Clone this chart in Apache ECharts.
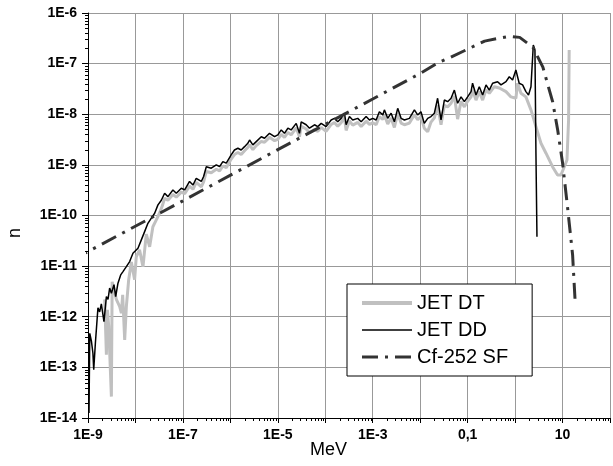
<!DOCTYPE html>
<html>
<head>
<meta charset="utf-8">
<script src="https://cdn.jsdelivr.net/npm/echarts@6/dist/echarts.min.js"></script>
<style>
html,body{margin:0;padding:0;background:#fff;}
#chart{width:613px;height:466px;}
</style>
</head>
<body>
<div id="chart"></div>
<script>
// ---- Tick labels ----
const xTickValues = [1e-9, 1e-7, 1e-5, 1e-3, 0.1, 10];
const xTickLabels = ['1E-9', '1E-7', '1E-5', '1E-3', '0,1', '10'];
const yTickValues = [1e-14, 1e-13, 1e-12, 1e-11, 1e-10, 1e-9, 1e-8, 1e-7, 1e-6];
const yTickLabels = ['1E-14', '1E-13', '1E-12', '1E-11', '1E-10', '1E-9', '1E-8', '1E-7', '1E-6'];

// ---- Series names ----
const seriesNames = ['JET DT', 'JET DD', 'Cf-252 SF'];

// ---- JET DD (black) : energy [MeV], n ----
const ddE = [1.05e-9,1.09e-9,1.18e-9,1.27e-9,1.32e-9,1.43e-9,1.62e-9,1.76e-9,1.91e-9,2.17e-9,2.44e-9,2.64e-9,2.86e-9,3.11e-9,3.53e-9,3.83e-9,4.28e-9,4.88e-9,5.46e-9,6.43e-9,7.55e-9,8.85e-9,1.13e-8,1.33e-8,1.56e-8,1.83e-8,2.16e-8,2.54e-8,2.98e-8,3.51e-8,
4.12e-8,4.83e-8,6.16e-8,7.26e-8,9.25e-8,1.09e-7,1.38e-7,1.63e-7,1.91e-7,2.44e-7,2.73e-7,3.11e-7,3.96e-7,5.05e-7,5.93e-7,6.95e-7,8.2e-7,1.04e-6,1.22e-6,1.44e-6,1.69e-6,1.99e-6,2.33e-6,2.54e-6,2.98e-6,3.51e-6,4.48e-6,5.25e-6,6.68e-6,8.53e-6,
1.0e-5,1.18e-5,1.38e-5,1.63e-5,1.91e-5,2.44e-5,2.86e-5,3.11e-5,3.96e-5,4.65e-5,5.93e-5,6.95e-5,8.2e-5,1.04e-4,1.33e-4,1.56e-4,1.83e-4,2.16e-4,2.54e-4,2.75e-4,3.23e-4,3.79e-4,4.83e-4,5.7e-4,7.26e-4,8.53e-4,1.0e-3,1.18e-3,1.38e-3,1.63e-3,1.76e-3,2.07e-3,2.44e-3,2.86e-3,3.36e-3,3.96e-3,4.65e-3,5.93e-3,7.55e-3,8.85e-3,
1.04e-2,1.22e-2,1.44e-2,1.69e-2,1.99e-2,2.33e-2,2.75e-2,3.23e-2,3.79e-2,4.48e-2,5.25e-2,6.15e-2,7.26e-2,8.53e-2,0.1,0.118,0.127,0.150,0.176,0.207,0.244,0.286,0.336,0.428,0.505,0.643,0.755,0.885,1.04,1.22,1.44,1.69,1.92,2.16,2.42,2.62,2.75,2.89];
const ddN = [1.25e-14,4.7e-13,3.3e-13,1.9e-13,9.0e-14,3.0e-13,1.5e-12,1.25e-12,1.8e-12,8.0e-13,2.5e-12,2.2e-12,3.7e-12,2.9e-12,4.3e-12,2.5e-12,4.6e-12,6.7e-12,7.8e-12,9.8e-12,1.23e-11,1.8e-11,2.26e-11,3.3e-11,4.8e-11,7.0e-11,8.9e-11,1.11e-10,1.62e-10,2.0e-10,
2.75e-10,2.36e-10,3.2e-10,2.75e-10,3.46e-10,3.2e-10,4.7e-10,4.0e-10,5.4e-10,4.7e-10,5.9e-10,9.2e-10,8.6e-10,1.0e-9,9.2e-10,1.16e-9,1.08e-9,1.57e-9,1.97e-9,2.13e-9,1.97e-9,2.29e-9,2.67e-9,3.1e-9,2.48e-9,2.88e-9,3.6e-9,3.36e-9,4.2e-9,3.6e-9,
3.9e-9,4.9e-9,4.2e-9,5.3e-9,4.9e-9,6.6e-9,4.2e-9,7.1e-9,6.2e-9,5.3e-9,6.2e-9,5.7e-9,6.6e-9,5.7e-9,7.7e-9,8.3e-9,7.1e-9,8.3e-9,1.05e-8,6.2e-9,9.0e-9,7.7e-9,8.3e-9,7.1e-9,9.0e-9,7.7e-9,8.3e-9,7.7e-9,1.12e-8,9.7e-9,1.22e-8,8.3e-9,1.05e-8,7.1e-9,1.31e-8,8.3e-9,7.7e-9,8.3e-9,1.22e-8,9.7e-9,
1.12e-8,6.6e-9,8.3e-9,9.0e-9,1.05e-8,2.07e-8,7.7e-9,1.91e-8,1.77e-8,2.07e-8,3.0e-8,1.65e-8,2.2e-8,1.77e-8,2.2e-8,2.8e-8,4.1e-8,2.4e-8,3.5e-8,2.4e-8,3.8e-8,3.0e-8,4.1e-8,4.4e-8,3.8e-8,4.4e-8,5.5e-8,4.75e-8,7.5e-8,4.1e-8,3.8e-8,2.8e-8,2.4e-8,3.5e-8,2.33e-7,1.86e-7,1.7e-9,3.8e-11];

// ---- JET DT (light grey) : energy [MeV], n ----
const dtE = [2.25e-9,2.44e-9,2.56e-9,2.73e-9,3.11e-9,3.23e-9,3.53e-9,3.96e-9,4.65e-9,5.05e-9,5.38e-9,5.93e-9,6.43e-9,7.2e-9,8.2e-9,9.6e-9,1.04e-8,1.22e-8,1.44e-8,1.69e-8,1.99e-8,2.33e-8,2.75e-8,3.23e-8,3.74e-8,
4.12e-8,4.83e-8,6.16e-8,7.26e-8,9.25e-8,1.09e-7,1.38e-7,1.63e-7,1.91e-7,2.44e-7,2.73e-7,3.11e-7,3.96e-7,5.05e-7,5.93e-7,6.95e-7,8.2e-7,1.04e-6,1.22e-6,1.44e-6,1.69e-6,1.99e-6,2.33e-6,2.54e-6,2.98e-6,3.51e-6,4.48e-6,5.25e-6,6.68e-6,8.53e-6,
1.0e-5,1.18e-5,1.38e-5,1.63e-5,1.91e-5,2.44e-5,2.86e-5,3.11e-5,3.96e-5,4.65e-5,5.93e-5,6.95e-5,8.2e-5,1.04e-4,1.33e-4,1.56e-4,1.83e-4,2.16e-4,2.54e-4,2.75e-4,3.23e-4,3.79e-4,4.83e-4,5.7e-4,7.26e-4,8.53e-4,1.0e-3,1.18e-3,1.38e-3,1.63e-3,1.76e-3,2.07e-3,2.44e-3,2.86e-3,3.36e-3,3.96e-3,4.65e-3,5.93e-3,7.55e-3,8.85e-3,
1.04e-2,1.22e-2,1.44e-2,1.69e-2,1.99e-2,2.33e-2,2.75e-2,3.23e-2,3.79e-2,4.48e-2,5.25e-2,6.15e-2,7.26e-2,8.53e-2,0.1,0.118,0.127,0.150,0.176,0.207,0.244,0.286,
0.365,0.465,0.643,0.82,1.04,1.13,1.33,1.69,2.16,2.75,3.51,4.48,6.15,7.85,9.25,10.9,12.4,13.4,13.8];
const dtN = [2.2e-12,1.77e-13,1.37e-12,6.6e-13,2.65e-14,4.9e-12,4.6e-12,2.2e-12,1.59e-12,1.18e-12,2.7e-12,3.5e-13,1.59e-12,5.4e-12,1.21e-11,5.4e-12,1.52e-11,2.1e-11,9.7e-12,4.3e-11,2.4e-11,6.0e-11,8.2e-11,1.12e-10,1.62e-10,
2.2e-10,2.0e-10,2.6e-10,2.3e-10,2.9e-10,2.7e-10,3.8e-10,3.3e-10,4.5e-10,3.7e-10,4.6e-10,7.4e-10,7.0e-10,8.2e-10,7.6e-10,9.5e-10,8.8e-10,1.3e-9,1.6e-9,1.75e-9,1.6e-9,1.9e-9,2.2e-9,2.5e-9,2.0e-9,2.4e-9,2.9e-9,2.8e-9,3.5e-9,3.0e-9,
3.2e-9,4.0e-9,3.5e-9,4.4e-9,3.9e-9,5.4e-9,3.6e-9,5.8e-9,5.1e-9,4.3e-9,5.0e-9,4.6e-9,5.5e-9,4.6e-9,6.3e-9,6.9e-9,5.8e-9,6.8e-9,8.6e-9,4.8e-9,7.4e-9,6.1e-9,6.9e-9,5.7e-9,7.3e-9,6.3e-9,6.8e-9,6.2e-9,9.0e-9,7.9e-9,9.8e-9,6.4e-9,8.4e-9,5.5e-9,1.05e-8,6.7e-9,6.2e-9,6.7e-9,9.8e-9,7.8e-9,
9.0e-9,5.3e-9,4.5e-9,7.0e-9,8.5e-9,1.5e-8,6.2e-9,1.5e-8,1.4e-8,1.65e-8,2.3e-8,8.0e-9,1.8e-8,1.4e-8,1.8e-8,2.2e-8,3.0e-8,1.9e-8,2.8e-8,1.9e-8,3.0e-8,2.6e-8,
3.5e-8,3.3e-8,2.8e-8,2.2e-8,2.07e-8,4.1e-8,2.6e-8,2.2e-8,1.22e-8,5.7e-9,2.67e-9,1.7e-9,9.2e-10,6.3e-10,6.3e-10,9.2e-10,1.25e-9,7.7e-9,1.86e-7];

// ---- Cf-252 SF reference spectrum : energy [MeV], n ----
const cfE = [4.8e-10,1e-9,1e-7,1e-5,1e-3,1e-2,0.025,0.042,0.1,0.228,0.45,0.77,1.25,2.37,3.85,6.2,7.9,10,12.7,16.3,18.5];
const cfN = [1.34e-11,1.94e-11,1.95e-10,2.0e-9,2.0e-8,6.4e-8,1.07e-7,1.31e-7,1.93e-7,2.78e-7,3.16e-7,3.45e-7,3.3e-7,2.11e-7,8.5e-8,1.75e-8,4.9e-9,1.1e-9,1.5e-10,1.66e-11,1.86e-12];

function pairs(xs, ys) { return xs.map((x, i) => [x, ys[i]]); }

// minor tick positions (axis decoration)
const xMinor = [], yMinor = [];
for (let d = -9; d <= 1; d++) for (let m = 2; m <= 9; m++) xMinor.push([m * Math.pow(10, d), 1e-14]);
for (let d = -14; d <= -7; d++) for (let m = 2; m <= 9; m++) yMinor.push([1e-9, m * Math.pow(10, d)]);

function near(a, b) { return Math.abs(Math.log10(a) - Math.log10(b)) < 1e-6; }

const FONT = 'Liberation Sans, Arial, sans-serif';
const chart = echarts.init(document.getElementById('chart'), null, {renderer: 'canvas'});

chart.setOption({
  animation: false,
  backgroundColor: '#fff',
  grid: {left: 88, right: 3, top: 13, bottom: 48, containLabel: false},
  xAxis: {
    type: 'log', logBase: 10, min: 1e-9, max: 100, interval: 1, splitNumber: 11,
    axisLine: {show: true, onZero: false, lineStyle: {color: '#000', width: 1}},
    axisTick: {show: true, inside: false, length: 5, lineStyle: {color: '#000'}},
    splitLine: {show: true, lineStyle: {color: '#999', width: 1}},
    axisLabel: {
      interval: 0, margin: 10, color: '#000', fontWeight: 'bold', fontSize: 14, fontFamily: FONT,
      showMinLabel: true, showMaxLabel: true,
      formatter: function (v) {
        for (let i = 0; i < xTickValues.length; i++) if (near(v, xTickValues[i])) return xTickLabels[i];
        return '';
      }
    }
  },
  yAxis: {
    type: 'log', logBase: 10, min: 1e-14, max: 1e-6, interval: 1, splitNumber: 8,
    axisLine: {show: true, lineStyle: {color: '#000', width: 1}},
    axisTick: {show: true, inside: false, length: 6, lineStyle: {color: '#000'}},
    splitLine: {show: true, lineStyle: {color: '#999', width: 1}},
    axisLabel: {
      interval: 0, margin: 11, color: '#000', fontWeight: 'bold', fontSize: 14, fontFamily: FONT,
      showMinLabel: true, showMaxLabel: true,
      formatter: function (v) {
        for (let i = 0; i < yTickValues.length; i++) if (near(v, yTickValues[i])) return yTickLabels[i];
        return '';
      }
    }
  },
  legend: {
    data: [
      {name: seriesNames[0], lineStyle: {width: 4, color: '#c0c0c0'}},
      {name: seriesNames[1], lineStyle: {width: 1.5, color: '#000'}},
      {name: seriesNames[2], lineStyle: {width: 3, color: '#333', type: [16, 7, 3, 7]}}
    ],
    orient: 'vertical', left: 347, top: 284,
    padding: [9, 24, 9, 13],
    itemWidth: 50, itemHeight: 14, itemGap: 7, itemTextGap: 7,
    itemStyle: {opacity: 0},
    borderColor: '#000', borderWidth: 1, backgroundColor: '#fff',
    textStyle: {fontSize: 20, fontFamily: FONT, color: '#000'},
    selectedMode: false
  },
  graphic: [
    {type: 'text', left: 310, top: 441, style: {text: 'MeV', font: '18px ' + FONT, fill: '#000'}},
    {type: 'text', left: 6, top: 228, rotation: Math.PI / 2, style: {text: 'n', font: '18px ' + FONT, fill: '#000'}}
  ],
  series: [
    {
      name: seriesNames[0], type: 'line', data: pairs(dtE, dtN),
      showSymbol: false, symbol: 'none', z: 3,
      lineStyle: {color: '#c0c0c0', width: 3}, itemStyle: {color: '#c0c0c0'}
    },
    {
      name: seriesNames[1], type: 'line', data: pairs(ddE, ddN),
      showSymbol: false, symbol: 'none', z: 4,
      lineStyle: {color: '#000', width: 1.5}, itemStyle: {color: '#000'}
    },
    {
      name: seriesNames[2], type: 'line', data: pairs(cfE, cfN),
      showSymbol: false, symbol: 'none', clip: false, z: 5,
      lineStyle: {color: '#333', width: 3, type: [16, 7, 3, 7]}, itemStyle: {color: '#333'}
    },
    {
      type: 'custom', data: xMinor, silent: true, z: 6, clip: false,
      renderItem: function (params, api) {
        const p = api.coord([api.value(0), api.value(1)]);
        const x = Math.round(p[0]) + 0.5;
        return {type: 'line', shape: {x1: x, y1: p[1], x2: x, y2: p[1] + 3}, style: {stroke: '#000', lineWidth: 1}};
      }
    },
    {
      type: 'custom', data: yMinor, silent: true, z: 6, clip: false,
      renderItem: function (params, api) {
        const p = api.coord([api.value(0), api.value(1)]);
        const y = Math.round(p[1]) + 0.5;
        return {type: 'line', shape: {x1: p[0] - 3, y1: y, x2: p[0], y2: y}, style: {stroke: '#000', lineWidth: 1}};
      }
    }
  ]
});
</script>
</body>
</html>
